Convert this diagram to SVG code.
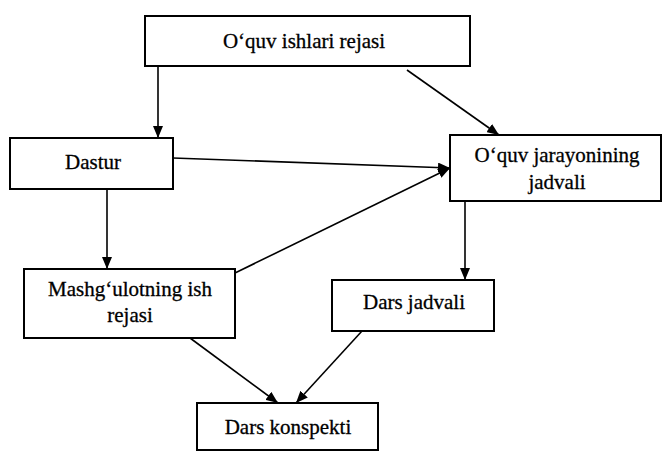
<svg xmlns="http://www.w3.org/2000/svg" width="663" height="452" viewBox="0 0 663 452">
<defs>
<marker id="ah" markerUnits="userSpaceOnUse" markerWidth="13" markerHeight="10" refX="12" refY="5" orient="auto">
<path d="M0,0 L12,5 L0,10 z" fill="#000"/>
</marker>
<style>
.box{fill:#fff;stroke:#000;stroke-width:2}
.t{font-family:"Liberation Serif","Times New Roman",serif;font-size:21px;fill:#000;stroke:#000;stroke-width:0.3;text-anchor:middle}
.c{stroke:#000;stroke-width:1.6;fill:none;marker-end:url(#ah)}
</style>
</defs>
<rect width="663" height="452" fill="#fff"/>
<g id="connectors">
<line class="c" x1="158" y1="66" x2="158" y2="138"/>
<line class="c" x1="407" y1="70" x2="499" y2="135"/>
<line class="c" x1="173" y1="158" x2="450" y2="168"/>
<line class="c" x1="235" y1="273" x2="450" y2="168"/>
<line class="c" x1="107" y1="189" x2="107" y2="269"/>
<line class="c" x1="465" y1="201" x2="465" y2="280"/>
<line class="c" x1="190" y1="338" x2="278" y2="403"/>
<line class="c" x1="362" y1="331" x2="296" y2="403"/>
</g>
<g id="n-rejasi">
<rect class="box" x="145" y="16" width="325" height="50"/>
<text class="t" x="304" y="48">O‘quv ishlari rejasi</text>
</g>
<g id="n-dastur">
<rect class="box" x="10" y="138" width="163" height="51"/>
<text class="t" x="93" y="169">Dastur</text>
</g>
<g id="n-jarayon">
<rect class="box" x="450" y="135" width="211" height="66"/>
<text class="t" x="557" y="162">O‘quv jarayonining</text>
<text class="t" x="557" y="189">jadvali</text>
</g>
<g id="n-mashgulot">
<rect class="box" x="24" y="269" width="211" height="69"/>
<text class="t" x="130" y="296">Mashg‘ulotning ish</text>
<text class="t" x="130" y="322">rejasi</text>
</g>
<g id="n-darsjadvali">
<rect class="box" x="332" y="280" width="162" height="51"/>
<text class="t" x="414" y="309">Dars jadvali</text>
</g>
<g id="n-konspekt">
<rect class="box" x="197" y="403" width="181" height="47"/>
<text class="t" x="288" y="434">Dars konspekti</text>
</g>
</svg>
